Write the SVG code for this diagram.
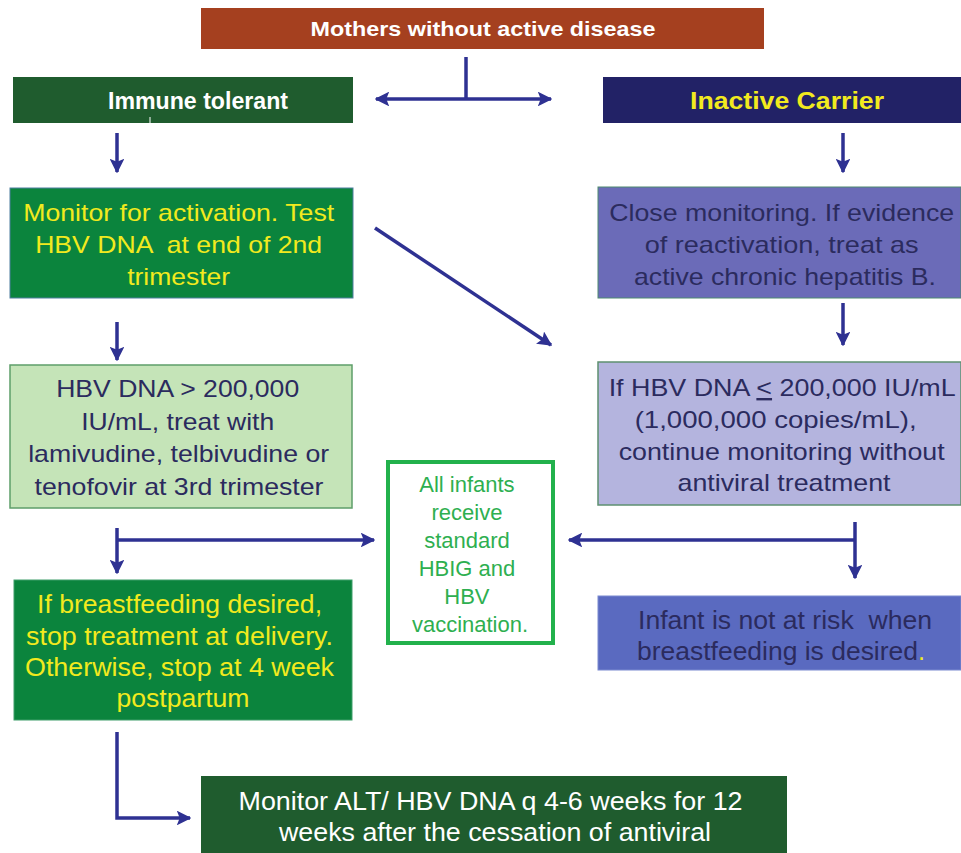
<svg xmlns="http://www.w3.org/2000/svg" width="961" height="853" viewBox="0 0 961 853">
<defs>
<marker id="ah" viewBox="0 0 10 10" refX="9" refY="5" markerWidth="4.2" markerHeight="4.2" orient="auto" markerUnits="strokeWidth">
<path d="M0,0 L10,5 L0,10 L2,5 Z" fill="#2E3192"/>
</marker>
<style>
.t{font-family:"Liberation Sans",Arial,sans-serif;text-anchor:middle}
.b{font-weight:bold}
.c{stroke:#2E3192;stroke-width:3.5;fill:none}
.y{fill:#F2EA1E}
.w{fill:#FFFFFF}
.d{fill:#2B2B5E}
.g{fill:#2EAF50}
</style>
</defs>
<rect width="961" height="853" fill="#FFFFFF"/>

<g id="connectors">
<path class="c" d="M466,57 V99"/>
<path class="c" d="M466,99 H551" marker-end="url(#ah)"/>
<path class="c" d="M466,99 H376" marker-end="url(#ah)"/>
<path class="c" d="M117,133 V172" marker-end="url(#ah)"/>
<path class="c" d="M843,133 V172" marker-end="url(#ah)"/>
<path class="c" d="M375,228 L551,345" marker-end="url(#ah)"/>
<path class="c" d="M117,322 V360" marker-end="url(#ah)"/>
<path class="c" d="M843,303 V345" marker-end="url(#ah)"/>
<path class="c" d="M117,528 V573" marker-end="url(#ah)"/>
<path class="c" d="M117,540 H374" marker-end="url(#ah)"/>
<path class="c" d="M855,540 H569" marker-end="url(#ah)"/>
<path class="c" d="M855,522 V578" marker-end="url(#ah)"/>
<path class="c" d="M117,732 V818 H190" marker-end="url(#ah)"/>
</g>

<g id="mothers">
<rect x="201" y="8" width="563" height="41" fill="#A5401F"/>
<text class="t b w" x="483" y="36" font-size="21" textLength="345" lengthAdjust="spacingAndGlyphs">Mothers without active disease</text>
</g>

<g id="immune-tolerant">
<rect x="13" y="77" width="340" height="46" fill="#1F5C2E"/>
<line x1="150" y1="117" x2="150" y2="123" stroke="#FFFFFF" stroke-width="1"/>
<text class="t b w" x="198" y="109" font-size="23" textLength="180" lengthAdjust="spacingAndGlyphs">Immune tolerant</text>
</g>

<g id="inactive-carrier">
<rect x="603" y="77" width="358" height="46" fill="#222266"/>
<text class="t b y" x="787" y="109" font-size="23" textLength="194" lengthAdjust="spacingAndGlyphs">Inactive Carrier</text>
</g>

<g id="monitor-activation">
<rect x="10" y="188" width="343" height="110" fill="#0B843D" stroke="#4E7FA0" stroke-width="1"/>
<text class="t y" font-size="24" xml:space="preserve">
<tspan x="182" y="221" textLength="311" lengthAdjust="spacingAndGlyphs">Monitor for activation. Test</tspan>
<tspan x="182" y="253" textLength="287" lengthAdjust="spacingAndGlyphs">HBV DNA  at end of 2nd</tspan>
<tspan x="182" y="285" textLength="103" lengthAdjust="spacingAndGlyphs">trimester</tspan>
</text>
</g>

<g id="close-monitoring">
<rect x="598" y="187" width="363" height="111" fill="#6B6BB8" stroke="#4E8A70" stroke-width="1"/>
<text class="t d" font-size="24">
<tspan x="785" y="221" textLength="345" lengthAdjust="spacingAndGlyphs">Close monitoring. If evidence</tspan>
<tspan x="785" y="253" textLength="274" lengthAdjust="spacingAndGlyphs">of reactivation, treat as</tspan>
<tspan x="785" y="285" textLength="302" lengthAdjust="spacingAndGlyphs">active chronic hepatitis B.</tspan>
</text>
</g>

<g id="hbv-treat">
<rect x="10" y="365" width="342" height="143" fill="#C5E4B8" stroke="#5E9E6A" stroke-width="1.5"/>
<text class="t d" font-size="24">
<tspan x="181" y="397" textLength="243" lengthAdjust="spacingAndGlyphs">HBV DNA &gt; 200,000</tspan>
<tspan x="181" y="430" textLength="193" lengthAdjust="spacingAndGlyphs">IU/mL, treat with</tspan>
<tspan x="182" y="462" textLength="301" lengthAdjust="spacingAndGlyphs">lamivudine, telbivudine or</tspan>
<tspan x="179" y="495" textLength="289" lengthAdjust="spacingAndGlyphs">tenofovir at 3rd trimester</tspan>
</text>
</g>

<g id="hbv-continue">
<rect x="598" y="362" width="363" height="143" fill="#B4B4DE" stroke="#5E9070" stroke-width="1.5"/>
<text class="t d" font-size="24">
<tspan x="785" y="396" textLength="346" lengthAdjust="spacingAndGlyphs">If HBV DNA <tspan text-decoration="underline">&lt;</tspan> 200,000 IU/mL</tspan>
<tspan x="779" y="428" textLength="282" lengthAdjust="spacingAndGlyphs">(1,000,000 copies/mL),</tspan>
<tspan x="785" y="460" textLength="326" lengthAdjust="spacingAndGlyphs">continue monitoring without</tspan>
<tspan x="784" y="491" textLength="213" lengthAdjust="spacingAndGlyphs">antiviral treatment</tspan>
</text>
</g>

<g id="all-infants">
<rect x="388" y="462" width="165" height="181" fill="#FFFFFF" stroke="#22B14C" stroke-width="4"/>
<text class="t g" font-size="22">
<tspan x="470" y="492">All infants</tspan>
<tspan x="470" y="520">receive</tspan>
<tspan x="470" y="548">standard</tspan>
<tspan x="470" y="576">HBIG and</tspan>
<tspan x="470" y="604">HBV</tspan>
<tspan x="470" y="632">vaccination.</tspan>
</text>
</g>

<g id="breastfeeding-stop">
<rect x="14" y="580" width="338" height="140" fill="#0B843D" stroke="#3E9E6A" stroke-width="1"/>
<text class="t y" font-size="25">
<tspan x="183" y="613" textLength="285" lengthAdjust="spacingAndGlyphs">If breastfeeding desired,</tspan>
<tspan x="183" y="645" textLength="307" lengthAdjust="spacingAndGlyphs">stop treatment at delivery.</tspan>
<tspan x="183" y="676" textLength="309" lengthAdjust="spacingAndGlyphs">Otherwise, stop at 4 week</tspan>
<tspan x="183" y="707" textLength="133" lengthAdjust="spacingAndGlyphs">postpartum</tspan>
</text>
</g>

<g id="infant-not-at-risk">
<rect x="598" y="596" width="363" height="74" fill="#5A6AC0" stroke="#7A8AD0" stroke-width="1"/>
<text class="t d" font-size="25" xml:space="preserve"><tspan x="785" y="629" textLength="294" lengthAdjust="spacingAndGlyphs">Infant is not at risk  when</tspan><tspan x="781" y="660" textLength="281" lengthAdjust="spacingAndGlyphs">breastfeeding is desired</tspan><tspan class="y">.</tspan></text>
</g>

<g id="monitor-alt">
<rect x="201" y="776" width="586" height="77" fill="#1F5C2E"/>
<text class="t w" font-size="25">
<tspan x="494" y="810" textLength="504" lengthAdjust="spacingAndGlyphs">Monitor ALT/ HBV DNA q 4-6 weeks for 12</tspan>
<tspan x="495" y="841" textLength="432" lengthAdjust="spacingAndGlyphs">weeks after the cessation of antiviral</tspan>
</text>
</g>
</svg>
